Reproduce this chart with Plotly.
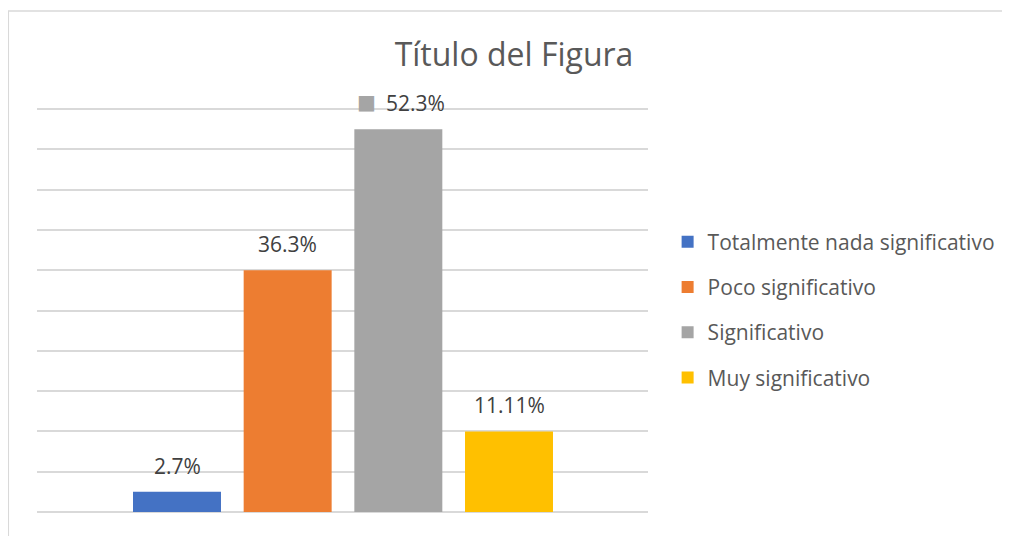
import plotly.graph_objects as go

categories = ["Totalmente nada significativo", "Poco significativo", "Significativo", "Muy significativo"]
values = [1, 12, 19, 4]
labels = ["2.7%", "36.3%", "52.3%", "11.11%"]
colors = ["#4472C4", "#ED7D31", "#A5A5A5", "#FFC000"]
title_text = "Título del Figura"

FONT = "Open Sans"

fig = go.Figure()
for i, (cat, val, col) in enumerate(zip(categories, values, colors)):
    fig.add_trace(go.Bar(
        x=[cat], y=[val], name=cat, marker=dict(color=col, line=dict(width=0)),
        width=0.795, legendgroup=f"g{i}", hoverinfo="skip",
    ))

for i, (cat, val, lab) in enumerate(zip(categories, values, labels)):
    xs = 17 if i == 2 else 0
    fig.add_annotation(
        x=cat, y=val, xref="x", yref="y", text=lab, showarrow=False,
        yanchor="bottom", yshift=10, xshift=xs,
        font=dict(family=FONT, size=21, color="#404040"),
    )
    if i == 2:
        fig.add_annotation(
            x=cat, y=val, xref="x", yref="y", text="■", showarrow=False,
            yanchor="middle", yshift=27.5, xshift=-31.5,
            font=dict(family="DejaVu Sans", size=20, color=colors[2]),
        )

fig.update_layout(
    width=1002, height=528,
    margin=dict(l=29, r=362, t=100, b=24, pad=0),
    paper_bgcolor="white", plot_bgcolor="white",
    barmode="overlay",
    title=dict(text=title_text, x=0.505, xanchor="center", y=0.911, yanchor="middle",
               font=dict(family=FONT, size=32, color="#595959")),
    xaxis=dict(type="category", range=[-1.265, 4.256], showticklabels=False,
               showgrid=False, zeroline=False, showline=False, ticks=""),
    yaxis=dict(range=[0, 20.05], dtick=2, showticklabels=False, showgrid=True,
               gridcolor="#D9D9D9", gridwidth=1.5, zeroline=True,
               zerolinecolor="#D9D9D9", zerolinewidth=1.5, ticks=""),
    legend=dict(xref="container", x=0.6583, xanchor="left", y=0.5, yanchor="middle",
                font=dict(family=FONT, size=21, color="#595959"),
                traceorder="grouped", tracegroupgap=15, bgcolor="rgba(0,0,0,0)"),
    font=dict(family=FONT),
    shapes=[dict(type="rect", xref="paper", yref="paper",
                 x0=-0.047, y0=-0.5, x1=2.0, y1=1.24,
                 line=dict(color="#D9D9D9", width=1.5), layer="below")],
)

fig.write_html("out.html")
